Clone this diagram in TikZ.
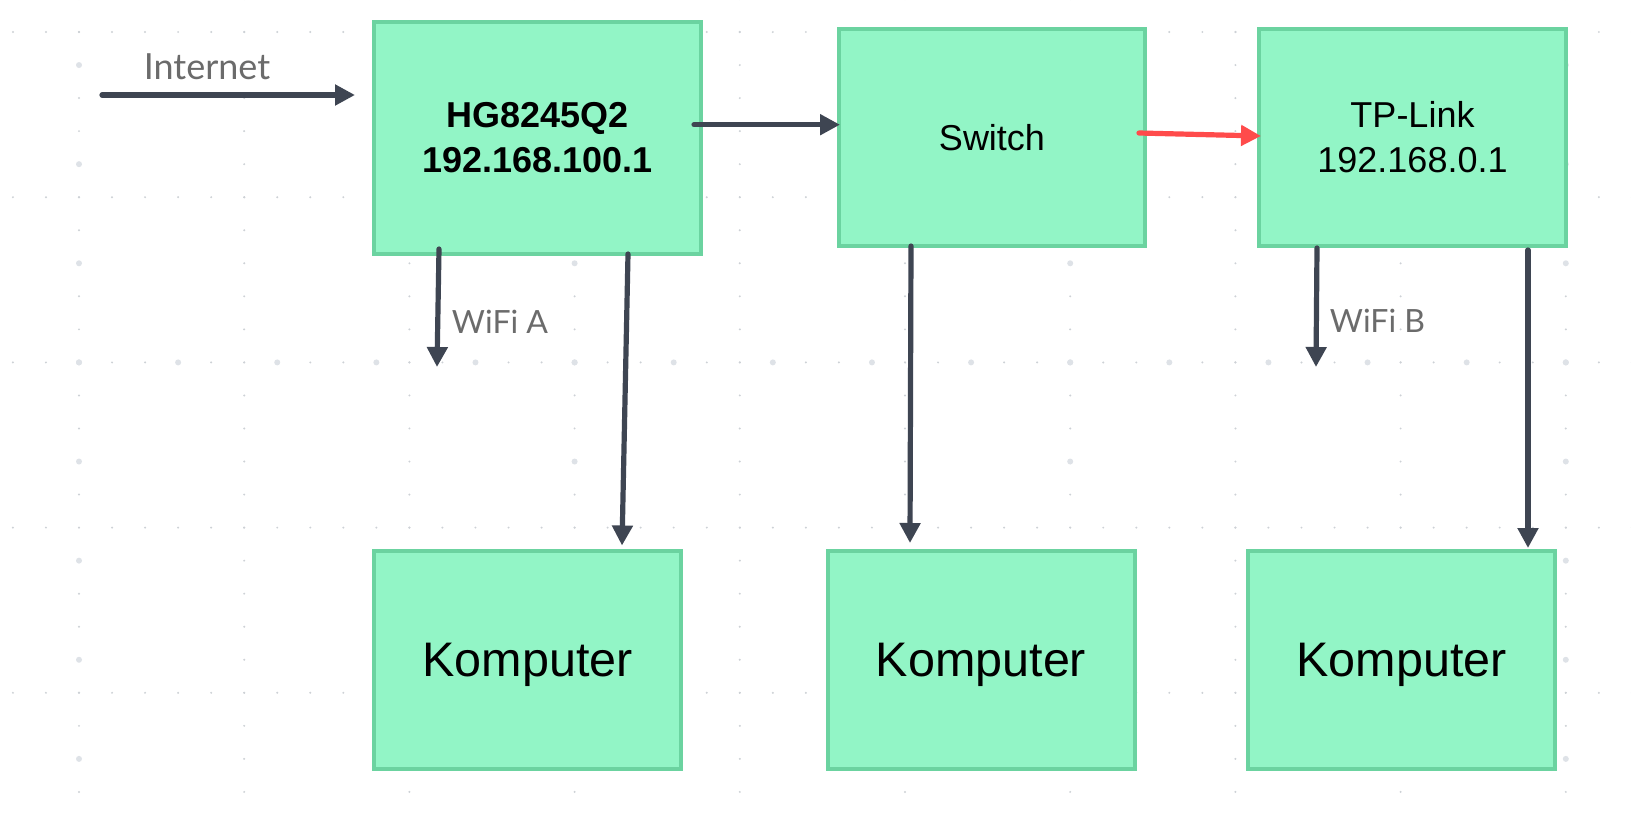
\documentclass[tikz,border=0pt]{standalone}
\usepackage{fontspec}
\setmainfont{Liberation Sans}
\newfontfamily\latofont{Lato}
\usetikzlibrary{arrows.meta,calc}
\definecolor{boxfill}{HTML}{92F5C6}
\definecolor{boxline}{HTML}{6BD3A0}
\definecolor{arrdark}{HTML}{3E4552}
\definecolor{arrred}{HTML}{FF4B4B}
\definecolor{dotsmall}{HTML}{CDD1D6}
\definecolor{dotbig}{HTML}{DEE2E7}
\definecolor{labelgray}{HTML}{6B6B6B}
\begin{document}
\begin{tikzpicture}[x=1pt,y=-1pt,
  devbox/.style={draw=boxline, fill=boxfill, line width=4pt, inner sep=0pt, align=center, text=black},
  topbox/.style={devbox, minimum width=307pt, minimum height=217pt, font=\fontsize{36}{45}\selectfont},
  pcbox/.style={devbox, minimum width=307pt, minimum height=218pt, text depth=0pt, font=\fontsize{48.5}{58}\selectfont},
  conn/.style={draw=arrdark, line width=5.2pt, line cap=round, -{Triangle[length=20pt,width=20pt]}},
  redconn/.style={conn, draw=arrred},
  lbl/.style={inner sep=0pt, text=labelgray, anchor=base},
  smalldot/.style={fill=dotsmall},
  bigdot/.style={fill=dotbig}
]
\useasboundingbox (0,0) rectangle (1631,820);
\fill[white] (0,0) rectangle (1631,820);
% dotted grid
\foreach \a in {0,...,9}
  \foreach \n in {-1,...,24}
    \fill[smalldot] ({79+165.2*\a},{32+33.04*\n}) circle[radius=1.1pt];
\foreach \b in {0,...,4}
  \foreach \n in {-3,...,47}
    \fill[smalldot] ({79+33.04*\n},{32+165.2*\b}) circle[radius=1.1pt];
\foreach \i in {0,...,15}
  \fill[bigdot] ({79+99.12*\i},362.4) circle[radius=3pt];
\foreach \k in {0,...,3}
  \foreach \j in {0,...,7}
    \fill[bigdot] ({79+495.6*\k},{65.04+99.12*\j}) circle[radius=3pt];
% devices
\node[topbox, minimum width=327pt, minimum height=232pt] (hg) at (537.5,138) {\bfseries HG8245Q2\\\bfseries 192.168.100.1};
\node[topbox, minimum width=306pt] (sw) at (992,137.5) {Switch};
\node[topbox] (tp) at (1412.5,137.5) {TP-Link\\192.168.0.1};
\node[pcbox] (k1) at (527.5,660) {Komputer};
\node[pcbox] (k2) at (981,660) {Komputer};
\node[pcbox] (k3) at (1401.5,660) {Komputer};
% labels
\node[lbl, font=\latofont\fontsize{36}{40}\selectfont] (inetlbl) at (207,79) {Internet};
\node[lbl, font=\latofont\fontsize{32}{38}\selectfont] (wifia) at (500,333) {WiFi A};
\node[lbl, font=\latofont\fontsize{32}{38}\selectfont] (wifib) at (1377.5,332) {WiFi B};
% free ends
\coordinate (inet) at (102,95);
\coordinate (wA) at (437,367);
\coordinate (wB) at (1316,367);
% connectors
\draw[conn] (inet) -- ($(hg.west |- inet)+(-17,0)$);
\draw[conn] ($(hg.east)+(-9,-13.3)$) -- ($(sw.west)+(3,-12.8)$);
\draw[redconn] ($(sw.east)+(-8,-4.5)$) -- ($(tp.west)+(4,-1.5)$);
\draw[conn] ($(hg.south west)+(67,-7)$) -- (wA);
\draw[conn] ($(hg.south west)+(256,-2)$) -- ($(k1.north west)+(250,-3.5)$);
\draw[conn] ($(sw.south)+(-81,-2)$) -- ($(k2.north)+(-71,-6)$);
\draw[conn] ($(tp.south west)+(60,0)$) -- (wB);
\draw[conn] ($(tp.south east)+(-40,2)$) -- ($(k3.north east)+(-29,-1)$);
\end{tikzpicture}
\end{document}
